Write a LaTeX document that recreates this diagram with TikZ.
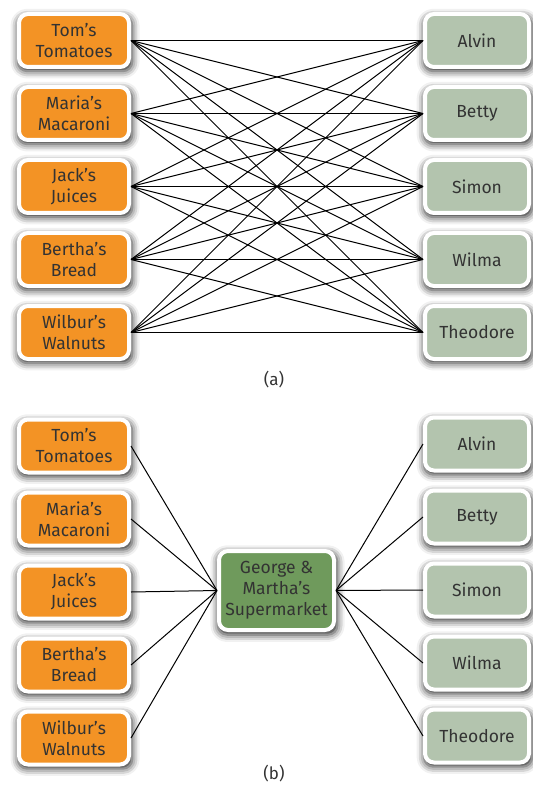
\documentclass[tikz,border=0pt]{standalone}
\usepackage{fontspec}
\setmainfont{Fira Sans}
\usetikzlibrary{positioning, shadows.blur}
\definecolor{supplierbg}{HTML}{F39325}
\definecolor{buyerbg}{HTML}{B3C4AE}
\definecolor{marketbg}{HTML}{6F9A5C}
\definecolor{labeltext}{HTML}{333333}
\tikzstyle{box} = [draw=white, line width=4pt, rounded corners=9pt,
    align=center, text=labeltext, font=\fontsize{17.5}{21}\selectfont,
    blur shadow={shadow xshift=1pt, shadow yshift=-3pt, shadow scale=1.04,
    shadow blur radius=7pt, shadow opacity=85}]
\tikzstyle{supplier} = [box, fill=supplierbg, minimum width=110pt,
    minimum height=53pt]
\tikzstyle{buyer} = [box, fill=buyerbg, minimum width=104pt,
    minimum height=53pt]
\tikzstyle{market} = [box, fill=marketbg, minimum width=115pt,
    minimum height=79pt]
\tikzstyle{link} = [black, line width=1pt]
\tikzstyle{caption} = [text=labeltext, font=\fontsize{17}{20}\selectfont]

\begin{document}
\begin{tikzpicture}[x=1pt, y=-1pt, node distance=16pt]
  \useasboundingbox (0,0) rectangle (532,791);

  % (a) every supplier trades with every customer
  \node [supplier] (tomA) at (74,40.5) {Tom’s\\Tomatoes};
  \node [supplier, below=of tomA] (mariaA) {Maria’s\\Macaroni};
  \node [supplier, below=of mariaA] (jackA) {Jack’s\\Juices};
  \node [supplier, below=of jackA] (berthaA) {Bertha’s\\Bread};
  \node [supplier, below=of berthaA] (wilburA) {Wilbur’s\\Walnuts};

  \node [buyer] (alvinA) at (477,40.5) {Alvin};
  \node [buyer, below=of alvinA] (bettyA) {Betty};
  \node [buyer, below=of bettyA] (simonA) {Simon};
  \node [buyer, below=of simonA] (wilmaA) {Wilma};
  \node [buyer, below=of wilmaA] (theodoreA) {Theodore};

  \node [caption] (capA) at (274,380) {(a)};

  \foreach \s in {tomA, mariaA, jackA, berthaA, wilburA}
    \foreach \b in {alvinA, bettyA, simonA, wilmaA, theodoreA}
      \draw [link] (\s.east) -- (\b.west);

  % (b) everybody goes through the supermarket
  \node [supplier] (tomB) at (74,446) {Tom’s\\Tomatoes};
  \node [supplier, below=of tomB] (mariaB) {Maria’s\\Macaroni};
  \node [supplier, below=of mariaB] (jackB) {Jack’s\\Juices};
  \node [supplier, below=of jackB] (berthaB) {Bertha’s\\Bread};
  \node [supplier, below=of berthaB] (wilburB) {Wilbur’s\\Walnuts};

  \node [buyer] (alvinB) at (477,444) {Alvin};
  \node [buyer, below=of alvinB] (bettyB) {Betty};
  \node [buyer, below=of bettyB] (simonB) {Simon};
  \node [buyer, below=of simonB] (wilmaB) {Wilma};
  \node [buyer, below=of wilmaB] (theodoreB) {Theodore};

  \node [market] (market) at (276.5,590.5) {George \&\\Martha’s\\Supermarket};

  \node [caption] (capB) at (274,774) {(b)};

  \foreach \s in {tomB, mariaB, jackB, berthaB, wilburB}
    \draw [link] (\s.east) -- (market.west);
  \foreach \b in {alvinB, bettyB, simonB, wilmaB, theodoreB}
    \draw [link] (market.east) -- (\b.west);
\end{tikzpicture}
\end{document}
